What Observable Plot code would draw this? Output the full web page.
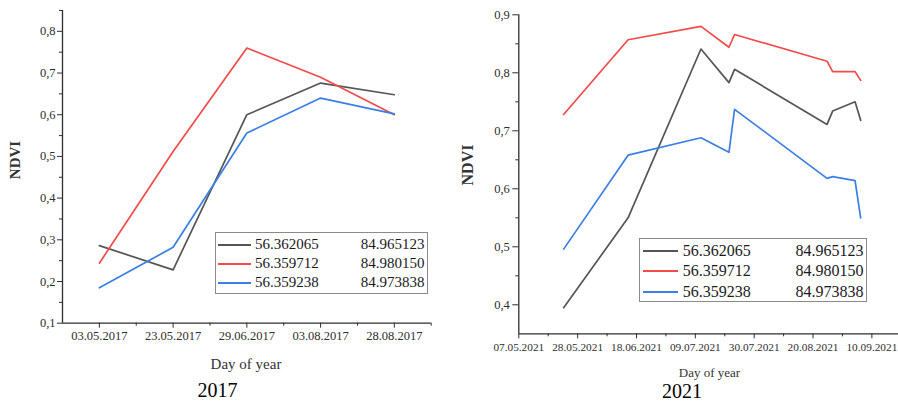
<!DOCTYPE html>
<html>
<head>
<meta charset="utf-8">
<script src="https://cdn.jsdelivr.net/npm/d3@7"></script>
<script src="https://cdn.jsdelivr.net/npm/@observablehq/plot@0.6"></script>
<style>
  body { margin:0; background:#fff; }
  #page { position:relative; width:898px; height:403px; overflow:hidden; font-family:'Liberation Serif', 'Times New Roman', serif; color:#222; }
  #page div { font-family:'Liberation Serif', 'Times New Roman', serif; }
  .abs { position:absolute; white-space:nowrap; }
  .legend { position:absolute; border:1px solid #8a8a8a; background:#fff; box-sizing:border-box; }
  .sample { position:absolute; height:0; border-top:2px solid; }
  .c1 { position:absolute; color:#1a1a1a; }
  .c2 { position:absolute; text-align:right; color:#1a1a1a; }
  .ylab { position:absolute; transform:translate(-50%,-50%) rotate(-90deg); white-space:nowrap; }
  svg text { font-family:'Liberation Serif', 'Times New Roman', serif; }
</style>
</head>
<body>
<div id="page">
  <div id="left" class="abs" style="left:0;top:0"></div>
  <div id="right" class="abs" style="left:450px;top:0"></div>
</div>
<script>
// ---- data ----
const seriesNames = ["56.362065", "56.359712", "56.359238"];
const seriesLon = ["84.965123", "84.980150", "84.973838"];
const seriesColors = ["#555555", "#f44a4a", "#3a7fe6"];

const dates2017 = ["03.05.2017", "23.05.2017", "29.06.2017", "03.08.2017", "28.08.2017"];
const black2017 = [0.286, 0.228, 0.600, 0.676, 0.648];
const red2017   = [0.244, 0.512, 0.760, 0.690, 0.600];
const blue2017  = [0.185, 0.282, 0.556, 0.640, 0.602];

const dates2021 = ["2021-05-23", "2021-06-15", "2021-07-11", "2021-07-21", "2021-07-23", "2021-08-25", "2021-08-27", "2021-09-04", "2021-09-06"];
const black2021 = [0.395, 0.550, 0.841, 0.783, 0.806, 0.711, 0.734, 0.750, 0.718];
const red2021   = [0.728, 0.857, 0.880, 0.844, 0.866, 0.820, 0.802, 0.802, 0.787];
const blue2021  = [0.496, 0.658, 0.688, 0.663, 0.737, 0.618, 0.621, 0.614, 0.550];

const yTicks2017 = [0.1, 0.2, 0.3, 0.4, 0.5, 0.6, 0.7, 0.8];
const yMinor2017 = [0.15, 0.25, 0.35, 0.45, 0.55, 0.65, 0.75, 0.85];
const yTicks2021 = [0.4, 0.5, 0.6, 0.7, 0.8, 0.9];
const yMinor2021 = [0.45, 0.55, 0.65, 0.75, 0.85];
const xTickDates2021 = ["2021-05-07", "2021-05-28", "2021-06-18", "2021-07-09", "2021-07-30", "2021-08-20", "2021-09-10"];

const fmtY = d => d.toFixed(1).replace(".", ",");
const axisColor = "#2e2e2e";
const lw = 1.7;
const serif = "'Liberation Serif', 'Times New Roman', serif";

// ---- left chart (2017) ----
const s2017 = [black2017, red2017, blue2017];
const idx = dates2017.map((d, i) => i);
const xMinor2017 = idx.map(i => i + 0.5);

const left = Plot.plot({
  width: 450, height: 350,
  marginLeft: 62, marginRight: 19.3, marginTop: 10, marginBottom: 27.3,
  style: {fontFamily: serif, fontSize: "12.5px", color: axisColor, background: "transparent", overflow: "visible"},
  x: {type: "linear", domain: [-0.5, dates2017.length - 0.5]},
  y: {domain: [0.1, 0.85]},
  marks: [
    Plot.axisY({ticks: yTicks2017, tickFormat: fmtY, tickSize: 5, tickPadding: 2, label: null, stroke: axisColor}),
    Plot.axisY({ticks: yMinor2017, tickFormat: () => "", tickSize: 3, label: null, stroke: axisColor}),
    Plot.axisX({ticks: idx, tickFormat: i => dates2017[i], tickSize: 5, tickPadding: 3, label: null, stroke: axisColor}),
    Plot.axisX({ticks: xMinor2017, tickFormat: () => "", tickSize: 3, label: null, stroke: axisColor}),
    Plot.ruleX([-0.5], {stroke: axisColor, strokeWidth: 1.3}),
    Plot.ruleY([0.1], {stroke: axisColor, strokeWidth: 1.3}),
    ...s2017.map((s, k) => Plot.line(s, {x: (d, i) => i, y: d => d, stroke: seriesColors[k], strokeWidth: lw}))
  ]
});
document.getElementById("left").appendChild(left);

// ---- right chart (2021) ----
const s2021 = [black2021, red2021, blue2021];
const parse = d3.utcParse("%Y-%m-%d");
const xt = xTickDates2021.map(parse);
const xMinor2021 = xt.map(d => d3.utcHour.offset(d, 252));
const fmtDate = d3.utcFormat("%d.%m.%Y");

const right = Plot.plot({
  width: 448, height: 360,
  marginLeft: 68.3, marginRight: 0, marginTop: 14.3, marginBottom: 26.7,
  style: {fontFamily: serif, fontSize: "12.5px", color: axisColor, background: "transparent", overflow: "visible"},
  x: {type: "utc", domain: [parse("2021-05-07"), d3.utcHour.offset(parse("2021-09-19"), 12)]},
  y: {domain: [0.35, 0.9]},
  marks: [
    Plot.axisY({ticks: yTicks2021, tickFormat: fmtY, tickSize: 6, tickPadding: 3, label: null, stroke: axisColor}),
    Plot.axisY({ticks: yMinor2021, tickFormat: () => "", tickSize: 3, label: null, stroke: axisColor}),
    Plot.axisX({ticks: xt, tickFormat: fmtDate, tickSize: 5, tickPadding: 4, fontSize: 11.3, label: null, stroke: axisColor}),
    Plot.axisX({ticks: xMinor2021.filter(d => d < parse("2021-09-19")), tickFormat: () => "", tickSize: 3, label: null, stroke: axisColor}),
    Plot.ruleX([parse("2021-05-07")], {stroke: axisColor, strokeWidth: 1.3}),
    Plot.ruleY([0.35], {stroke: axisColor, strokeWidth: 1.3}),
    ...s2021.map((s, k) => Plot.line(s, {x: (d, i) => parse(dates2021[i]), y: d => d, stroke: seriesColors[k], strokeWidth: lw}))
  ]
});
document.getElementById("right").appendChild(right);

// ---- texts & legends ----
const page = document.getElementById("page");
function addText(txt, css) {
  const el = document.createElement("div");
  el.className = "abs";
  el.textContent = txt;
  Object.assign(el.style, css);
  page.appendChild(el);
  return el;
}
function addYLabel(txt, x, y, size) {
  const el = document.createElement("div");
  el.className = "ylab";
  el.textContent = txt;
  Object.assign(el.style, {left: x + "px", top: y + "px", fontSize: size + "px", fontWeight: "bold", color: "#333"});
  page.appendChild(el);
}
function centered(txt, cx, cy, size, color) {
  return addText(txt, {left: cx + "px", top: (cy - size / 2) + "px", fontSize: size + "px", lineHeight: size + "px", color: color, transform: "translateX(-50%)"});
}
addYLabel("NDVI", 15, 160, 15);
addYLabel("NDVI", 468, 165, 16);
centered("Day of year", 246, 364, 15, "#333");
centered("Day of year", 709.5, 372, 13, "#333");
centered("2017", 217.5, 390, 20, "#000");
centered("2021", 682, 390.7, 20, "#000");

function legend(box, rowsY, size, sampleX, textX, textRight) {
  const lg = document.createElement("div");
  lg.className = "legend";
  Object.assign(lg.style, {left: box[0] + "px", top: box[1] + "px", width: box[2] + "px", height: box[3] + "px"});
  page.appendChild(lg);
  seriesNames.forEach((n, k) => {
    const cy = rowsY[k] - box[1];
    const sm = document.createElement("div");
    sm.className = "sample";
    Object.assign(sm.style, {left: (sampleX[0] - box[0]) + "px", width: (sampleX[1] - sampleX[0]) + "px", top: (cy - 1) + "px", borderTopColor: seriesColors[k]});
    lg.appendChild(sm);
    const t1 = document.createElement("div");
    t1.className = "c1";
    t1.textContent = n;
    Object.assign(t1.style, {left: (textX - box[0]) + "px", top: (cy - size / 2) + "px", fontSize: size + "px", lineHeight: size + "px"});
    lg.appendChild(t1);
    const t2 = document.createElement("div");
    t2.className = "c2";
    t2.textContent = seriesLon[k];
    Object.assign(t2.style, {right: (box[0] + box[2] - textRight) + "px", top: (cy - size / 2) + "px", fontSize: size + "px", lineHeight: size + "px"});
    lg.appendChild(t2);
  });
}
legend([215, 232.3, 213, 61.5], [243.7, 262.7, 282], 15, [216.7, 250], 254, 425.5);
legend([639.3, 238.3, 227.5, 64], [250, 270.3, 290.7], 16, [641.7, 676.7], 681.7, 864.5);
</script>
</body>
</html>
